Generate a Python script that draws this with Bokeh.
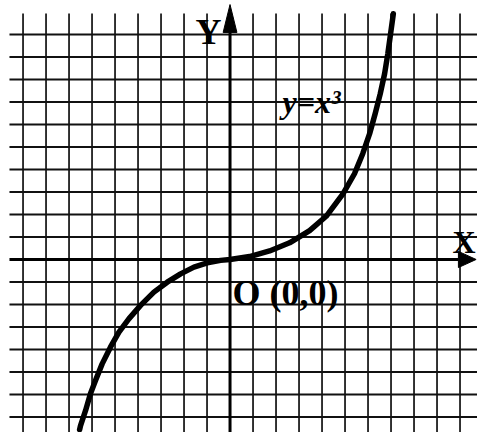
from bokeh.plotting import figure
from bokeh.models import Range1d, Label
from bokeh.embed import file_html
from bokeh.resources import INLINE

# ---- data (grid units) ----
grid_x = [-9, -8, -7, -6, -5, -4, -3, -2, -1, 1, 2, 3, 4, 5, 6, 7, 8, 9, 10]
grid_y = [-7, -6, -5, -4, -3, -2, -1, 1, 2, 3, 4, 5, 6, 7, 8, 9, 10]

curve_x = [-6.54, -6.50, -6.28, -6.07, -5.85, -5.56, -5.20, -4.83, -4.40, -3.89, -3.31,
           -2.73, -2.15, -1.57, -0.99, -0.41, 0.0, 0.85, 1.72, 2.59, 3.46, 4.18, 4.91,
           5.41, 5.77, 6.07, 6.31, 6.53, 6.72, 6.86, 6.98, 7.10]
curve_y = [-7.56, -7.38, -6.71, -5.97, -5.38, -4.64, -3.90, -3.23, -2.64, -2.04, -1.45,
           -1.01, -0.64, -0.34, -0.15, -0.04, 0.0, 0.13, 0.38, 0.74, 1.28, 1.92, 2.92,
           3.81, 4.70, 5.59, 6.48, 7.36, 8.25, 9.14, 10.03, 10.92]

curve_label = "y=x³"
x_label = "X"
y_label = "Y"
origin_label = "O (0,0)"

# ---- figure ----
X0, X1 = -9.98, 10.76
Y0, Y1 = -7.69, 11.51

p = figure(width=477, height=432, output_backend="svg", toolbar_location=None,
           x_range=Range1d(X0, X1), y_range=Range1d(Y0, Y1),
           min_border=0, min_border_left=0, min_border_right=0,
           min_border_top=0, min_border_bottom=0)
p.axis.visible = False
p.grid.visible = False
p.outline_line_color = None
p.background_fill_color = "white"
p.border_fill_color = "white"

ink = "#111111"
vtop = 10.93
left = -9.59
# vertical grid lines
p.segment(x0=grid_x, y0=[Y0] * len(grid_x), x1=grid_x, y1=[vtop] * len(grid_x),
          line_color=ink, line_width=1.7)
# horizontal grid lines
p.segment(x0=[left] * len(grid_y), y0=grid_y, x1=[X1] * len(grid_y), y1=grid_y,
          line_color=ink, line_width=1.9)

# axes
p.line([left, 9.93], [0, 0], line_color="black", line_width=3)
p.patch([9.93, 10.70, 9.93], [0.36, 0.0, -0.36], fill_color="black", line_color="black")
p.line([0, 0], [Y0, 10.09], line_color="black", line_width=3)
p.patch([-0.30, 0.0, 0.30], [10.09, 11.33, 10.09], fill_color="black", line_color="black")

# curve
p.line(curve_x, curve_y, line_color="black", line_width=5.5, line_join="round", line_cap="round")

# labels
p.add_layout(Label(x=-1.5, y=10.09, text=y_label, text_font="Liberation Serif",
                   text_font_style="bold", text_font_size="36px", text_baseline="alphabetic",
                   text_color="black"))
p.add_layout(Label(x=9.67, y=0.76, text=x_label, text_font="Liberation Serif",
                   text_font_style="bold", text_font_size="32px", text_baseline="alphabetic",
                   text_color="black"))
p.add_layout(Label(x=0.11, y=-1.47, text=origin_label, text_font="Liberation Serif",
                   text_font_style="bold", text_font_size="36px", text_baseline="alphabetic",
                   text_color="black"))
p.add_layout(Label(x=2.28, y=6.98, text=curve_label, text_font="Liberation Serif",
                   text_font_style="bold italic", text_font_size="32px", text_baseline="alphabetic",
                   text_color="black"))

open("out.html", "w").write(file_html(p, INLINE))
